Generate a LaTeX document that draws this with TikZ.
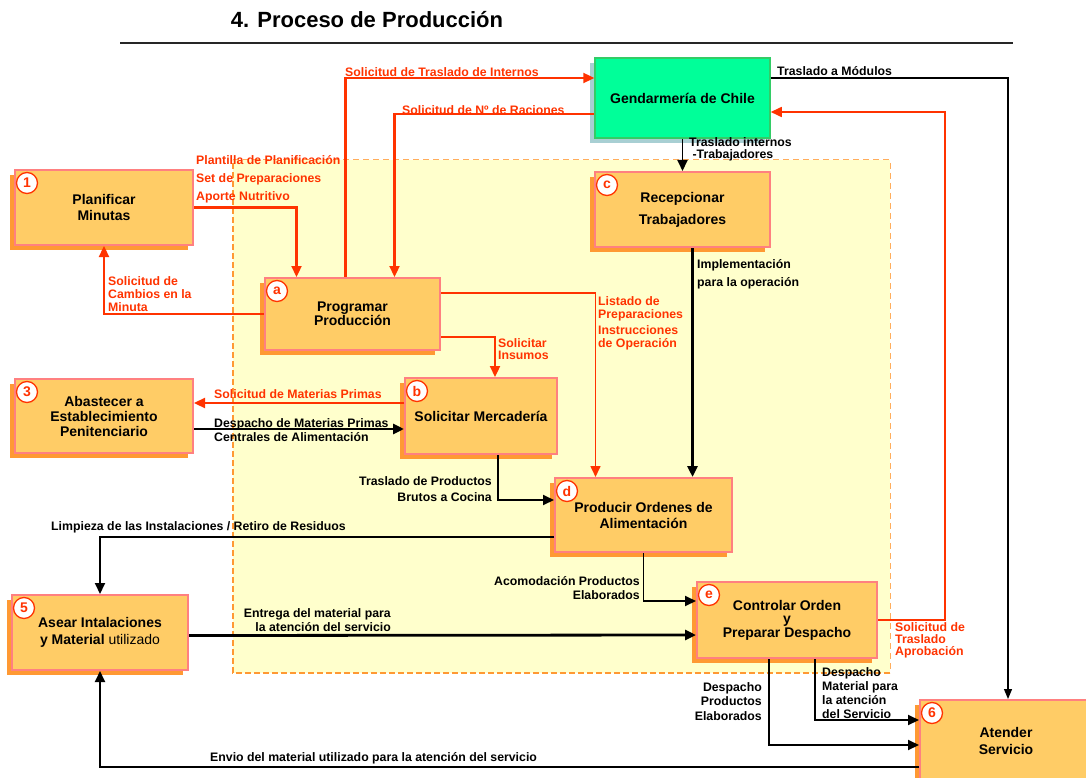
\documentclass[tikz,border=0pt]{standalone}
\usepackage{fontspec}
\setmainfont{Liberation Sans}
\usetikzlibrary{positioning,arrows.meta,shadows}

\definecolor{boxfill}{HTML}{FFCC66}
\definecolor{boxline}{HTML}{FF8080}
\definecolor{boxshade}{HTML}{FF9933}
\definecolor{redc}{HTML}{FF3300}
\definecolor{gendfill}{HTML}{00FF99}
\definecolor{gendline}{HTML}{33CC66}
\definecolor{gendshade}{HTML}{A8CFD3}
\definecolor{zonefill}{HTML}{FFFFCC}
\definecolor{zoneline}{HTML}{FF9933}

\tikzset{
  basebox/.style={align=center, inner sep=2pt, font=\bfseries\fontsize{14}{16}\selectfont},
  proc/.style={basebox, draw=boxline, line width=2pt, fill=boxfill,
    drop shadow={shadow xshift=-5pt, shadow yshift=-5pt, fill=boxshade, opacity=1}},
  gend/.style={basebox, draw=gendline, line width=1.5pt, fill=gendfill,
    drop shadow={shadow xshift=-5pt, shadow yshift=-5pt, fill=gendshade, opacity=1}},
  badge/.style={circle, draw=redc, line width=1.3pt, fill=white, inner sep=0pt,
    minimum size=21pt, font=\bfseries\fontsize{14}{14}\selectfont, text=redc},
  lbl/.style={inner sep=0pt, align=left, font=\bfseries\fontsize{12.3}{#1}\selectfont},
  lbl/.default=14,
  rlbl/.style={lbl=#1, text=redc},
  rlbl/.default=14,
  rarr/.style={draw=redc, line width=2.3pt, -{Triangle[length=11pt,width=10pt]}},
  rthin/.style={rarr, line width=1.6pt},
  barr/.style={draw=black, line width=1.9pt, -{Triangle[length=11pt,width=10pt]}},
  bthick/.style={barr, line width=2.8pt},
  bthin/.style={barr, line width=1.2pt, -{Triangle[length=10pt,width=8pt]}},
}

\begin{document}
\begin{tikzpicture}[x=1pt, y=-1pt]
  \useasboundingbox (0,0) rectangle (1086,778);

  % titulo
  \node[font=\bfseries\fontsize{22}{24}\selectfont] (title) at (367,20) {4. Proceso de Producción};
  \draw[line width=2pt, black!85] (120,43) -- (1013,43);

  % zona de cocina
  \fill[zonefill] (233,160) rectangle (890,673);
  \draw[zoneline!80, line width=1pt, dash pattern=on 6pt off 4pt] (233,160) -- (890,160) -- (890,673);
  \draw[zoneline, line width=2.5pt, dash pattern=on 6pt off 3pt] (890,673) -- (233,673) -- (233,160);

  % procesos
  \node[proc, minimum width=178, minimum height=75] (b1) at (104,207.5) {Planificar\\Minutas};
  \node[proc, minimum width=175, minimum height=72, font=\bfseries\fontsize{14}{14}\selectfont] (ba) at (352.5,314) {Programar\\Producción};
  \node[proc, minimum width=178, minimum height=74, font=\bfseries\fontsize{14}{15}\selectfont] (b3) at (104,416) {Abastecer a\\Establecimiento\\Penitenciario};
  \node[proc, minimum width=152, minimum height=76] (bb) at (481,416) {Solicitar Mercadería};
  \node[gend, minimum width=175, minimum height=80] (gc) at (682.5,98) {Gendarmería de Chile};
  \node[proc, minimum width=175, minimum height=75, font=\bfseries\fontsize{14}{22}\selectfont] (bc) at (682.5,209.5) {Recepcionar\\Trabajadores};
  \node[proc, minimum width=177, minimum height=74] (bd) at (643.5,515) {Producir Ordenes de\\Alimentación};
  \node[proc, minimum width=176, minimum height=75, font=\bfseries\fontsize{14}{17}\selectfont] (b5) at (100,632.5) {Asear Intalaciones\\y Material {\mdseries utilizado}};
  \node[proc, minimum width=180, minimum height=76, font=\bfseries\fontsize{14}{13.5}\selectfont] (be) at (787,620) {Controlar Orden\\y\\Preparar Despacho};
  \node[proc, minimum width=172, minimum height=82, font=\bfseries\fontsize{14}{17}\selectfont] (b6) at (1006,741) {Atender\\Servicio};

  % numeros
  \node[badge] (n1) at ([xshift=13pt,yshift=-14pt]b1.north west) {1};
  \node[badge] (na) at ([xshift=13pt,yshift=-14pt]ba.north west) {a};
  \node[badge] (n3) at ([xshift=13pt,yshift=-14pt]b3.north west) {3};
  \node[badge] (nb) at ([xshift=13pt,yshift=-14pt]bb.north west) {b};
  \node[badge] (nc) at ([xshift=13pt,yshift=-14pt]bc.north west) {c};
  \node[badge] (nd) at ([xshift=13pt,yshift=-14pt]bd.north west) {d};
  \node[badge] (n5) at ([xshift=13pt,yshift=-14pt]b5.north west) {5};
  \node[badge] (ne) at ([xshift=13pt,yshift=-14pt]be.north west) {e};
  \node[badge] (n6) at ([xshift=13pt,yshift=-14pt]b6.north west) {6};

  % flujos rojos
  \draw[rarr] (b1.east) -| ([xshift=-56pt]ba.north);
  \draw[rarr] (ba.west) -| (b1.south);
  \draw[rarr] ([xshift=-7pt]ba.north) |- ([yshift=20pt]gc.west);
  \draw[rarr] ([yshift=-16pt]gc.west) -| ([xshift=42pt]ba.north);
  \draw[rthin] ([yshift=21pt]ba.east) -| ([xshift=-48pt]bd.north);
  \draw[rarr] ([yshift=-23pt]ba.east) -| ([xshift=14pt]bb.north);
  \draw[rarr] ([yshift=13pt]bb.west) -- ([yshift=13pt]b3.east);
  \draw[rthin] (be.east) -- ++(67,0) |- ([yshift=-14pt]gc.east);

  % flujos negros
  \draw[bthick] ([yshift=-13pt]b3.east) -- ([yshift=-13pt]bb.west);
  \draw[bthin] ([yshift=20pt]gc.east) -| ([xshift=2pt]b6.north);
  \draw[barr] (gc.south) -- (bc.north);
  \draw[bthick] ([xshift=10pt]bc.south) -- ([xshift=49pt]bd.north);
  \draw[barr] ([xshift=17pt]bb.south) |- ([yshift=15pt]bd.west);
  \draw[barr] ([yshift=-22pt]bd.west) -| (b5.north);
  \draw[barr] (bd.south) |- ([yshift=19pt]be.west);
  \draw[bthick] ([yshift=-3pt]b5.east) -- ([yshift=-15pt]be.west);
  \draw[barr] ([xshift=-18pt]be.south) |- ([yshift=-4pt]b6.west);
  \draw[barr] ([xshift=28pt]be.south) |- ([yshift=21pt]b6.west);
  \draw[barr] ([yshift=-26pt]b6.west) -| (b5.south);

  % etiquetas rojas
  \node[rlbl=18, anchor=west] (lplan) at (196,179) {Plantilla de Planificación\\Set de Preparaciones\\Aporte Nutritivo};
  \node[rlbl=13, anchor=west] (lcamb) at (108,294) {Solicitud de\\Cambios en la\\Minuta};
  \node[rlbl, anchor=west] (ltras) at (345,72) {Solicitud de Traslado de Internos};
  \node[rlbl, anchor=west] (lraci) at (402,110) {Solicitud de Nº de Raciones};
  \node[rlbl=12.5, anchor=west] (llist) at (598,309) {Listado de\\Preparaciones};
  \node[rlbl=12.5, anchor=west] (linst) at (598,338) {Instrucciones\\de Operación};
  \node[rlbl=12.5, anchor=west] (linsu) at (498,349) {Solicitar\\Insumos};
  \node[rlbl, anchor=west] (lmat) at (214,394) {Solicitud de Materias Primas};
  \node[rlbl=12, anchor=west] (lapro) at (895,640) {Solicitud de\\Traslado\\Aprobación};

  % etiquetas negras
  \node[lbl, anchor=west] (lmod) at (777,71) {Traslado a Módulos};
  \node[lbl=12, anchor=west] (lint) at (689,149) {Traslado internos\\\ -Trabajadores};
  \node[lbl=18, anchor=west] (limpl) at (697,274) {Implementación\\para la operación};
  \node[lbl=14, anchor=west] (ldesp) at (214,430) {Despacho de Materias Primas\\Centrales de Alimentación};
  \node[lbl=16, anchor=east, align=right] (lbrut) at (492,489) {Traslado de Productos\\Brutos a Cocina};
  \node[lbl, anchor=west] (llimp) at (51,527) {Limpieza de las Instalaciones / Retiro de Residuos};
  \node[lbl=14, anchor=east, align=right] (lacom) at (640,588) {Acomodación Productos\\Elaborados};
  \node[lbl=14, anchor=east, align=right] (lentr) at (391,620) {Entrega del material para\\la atención del servicio};
  \node[lbl=14.5, anchor=east, align=right] (ldpro) at (762,701.5) {Despacho\\Productos\\Elaborados};
  \node[lbl=14, anchor=west] (ldmat) at (822,693) {Despacho\\Material para\\la atención\\del Servicio};
  \node[lbl, anchor=west] (lenv) at (210,758) {Envio del material utilizado para la atención del servicio};
\end{tikzpicture}
\end{document}
